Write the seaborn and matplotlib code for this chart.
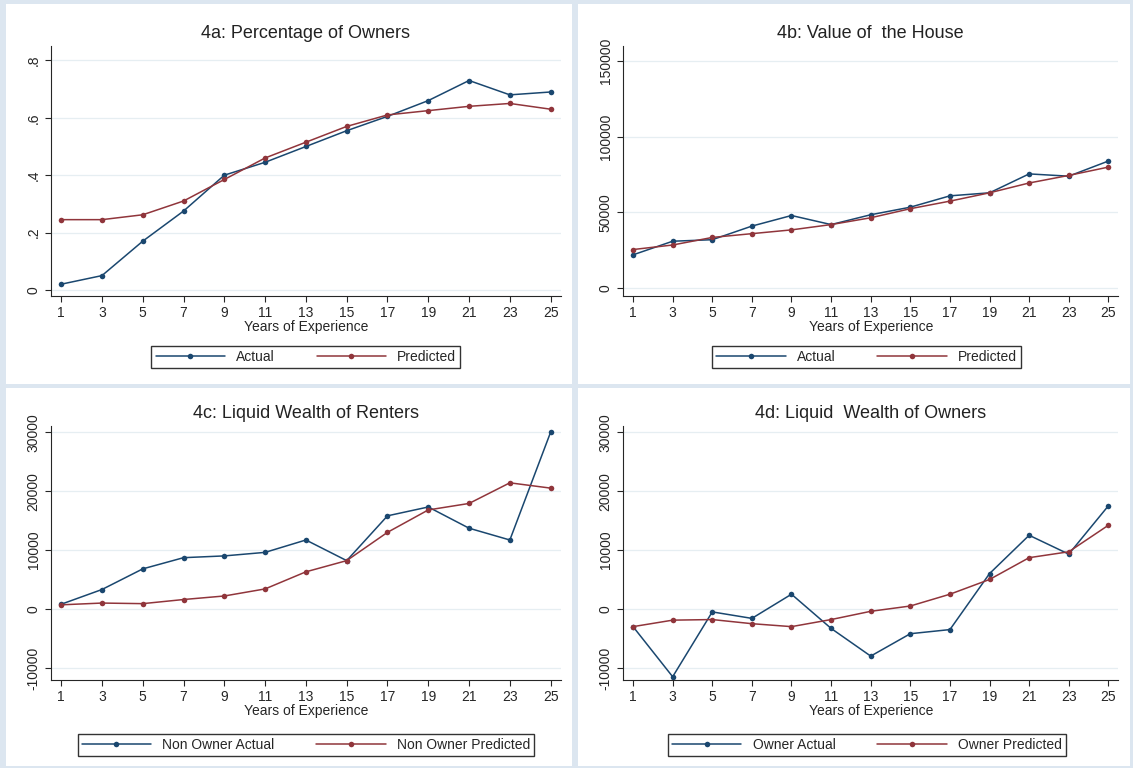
import numpy as np
import pandas as pd
import seaborn as sns
import matplotlib.pyplot as plt

years = list(range(1, 26, 2))

own_actual = [0.02, 0.05, 0.17, 0.275, 0.40, 0.445, 0.50, 0.555, 0.605, 0.66, 0.73, 0.68, 0.69]
own_pred = [0.245, 0.245, 0.262, 0.31, 0.385, 0.46, 0.515, 0.57, 0.61, 0.625, 0.64, 0.65, 0.63]

house_actual = [22000, 31000, 32000, 41000, 48000, 42000, 48500, 53500, 61000, 63000, 75500, 74000, 84000]
house_pred = [25500, 28500, 33500, 36000, 38500, 42000, 46500, 52500, 57500, 63000, 69500, 74500, 80000]

rent_actual = [800, 3300, 6800, 8700, 9000, 9600, 11700, 8200, 15800, 17300, 13700, 11700, 30000]
rent_pred = [700, 1000, 900, 1600, 2200, 3400, 6300, 8200, 13000, 16800, 17900, 21400, 20500]

ownw_actual = [-3000, -11500, -500, -1600, 2500, -3300, -8000, -4200, -3500, 6000, 12500, 9300, 17500]
ownw_pred = [-3000, -1900, -1800, -2500, -3000, -1800, -400, 500, 2500, 5000, 8700, 9700, 14200]

panels = [
    ("4a: Percentage of Owners", own_actual, own_pred, ["Actual", "Predicted"],
     [0, 0.2, 0.4, 0.6, 0.8], ["0", ".2", ".4", ".6", ".8"], (-0.02, 0.85)),
    ("4b: Value of  the House", house_actual, house_pred, ["Actual", "Predicted"],
     [0, 50000, 100000, 150000], ["0", "50000", "100000", "150000"], (-5000, 160000)),
    ("4c: Liquid Wealth of Renters", rent_actual, rent_pred, ["Non Owner Actual", "Non Owner Predicted"],
     [-10000, 0, 10000, 20000, 30000], ["-10000", "0", "10000", "20000", "30000"], (-12000, 31000)),
    ("4d: Liquid  Wealth of Owners", ownw_actual, ownw_pred, ["Owner Actual", "Owner Predicted"],
     [-10000, 0, 10000, 20000, 30000], ["-10000", "0", "10000", "20000", "30000"], (-12000, 31000)),
]

sns.set_style("white")
plt.rcParams['font.family'] = ['Liberation Sans', 'DejaVu Sans']
fig = plt.figure(figsize=(11.33, 7.68), dpi=100, facecolor="#dce6f0")

boxes = [(0.005, 0.50, 0.500, 0.495), (0.510, 0.50, 0.487, 0.495),
         (0.005, 0.003, 0.500, 0.492), (0.510, 0.003, 0.487, 0.492)]
axpos = [(0.045, 0.615, 0.450, 0.325), (0.550, 0.615, 0.437, 0.325),
         (0.045, 0.115, 0.450, 0.330), (0.550, 0.115, 0.437, 0.330)]
legpos = [(0.27, 0.535), (0.765, 0.535), (0.27, 0.030), (0.765, 0.030)]

for i, (title, act, pred, labs, ticks, tlabs, ylim) in enumerate(panels):
    fig.patches.append(plt.Rectangle(boxes[i][:2], boxes[i][2], boxes[i][3],
                                     transform=fig.transFigure, facecolor="white",
                                     edgecolor="none", zorder=-5))
    ax = fig.add_axes(axpos[i])
    ax.set_zorder(2)
    ax.set_facecolor("none")
    df = pd.DataFrame({"year": years * 2, "value": act + pred,
                       "series": [labs[0]] * 13 + [labs[1]] * 13})
    sns.lineplot(data=df, x="year", y="value", hue="series", marker="o",
                 palette=["#1a476f", "#90353b"], linewidth=1.1, markersize=4,
                 markeredgewidth=0, ax=ax)
    for y in ticks:
        ax.axhline(y, color="#e6eef2", lw=0.9, zorder=0)
    ax.set_title(title, fontsize=13, color="#222222")
    ax.set_xticks(years)
    ax.set_xlim(0.5, 25.5)
    ax.set_yticks(ticks)
    ax.set_yticklabels(tlabs, rotation=90, va="center")
    ax.set_ylim(*ylim)
    ax.tick_params(labelsize=10, length=4, direction="out", left=True, bottom=True)
    ax.set_xlabel("Years of Experience", fontsize=10, labelpad=0)
    ax.set_ylabel("")
    for s in ["top", "right"]:
        ax.spines[s].set_visible(False)
    ax.get_legend().remove()
    h, l = ax.get_legend_handles_labels()
    leg = fig.legend(h, l, loc="center", bbox_to_anchor=legpos[i], ncol=2, fontsize=10,
                     frameon=True, edgecolor="black", fancybox=False, handlelength=5,
                     columnspacing=3, borderpad=0.3)
    leg.set_zorder(3)

fig.savefig("out.png", dpi=100, facecolor=fig.get_facecolor())
